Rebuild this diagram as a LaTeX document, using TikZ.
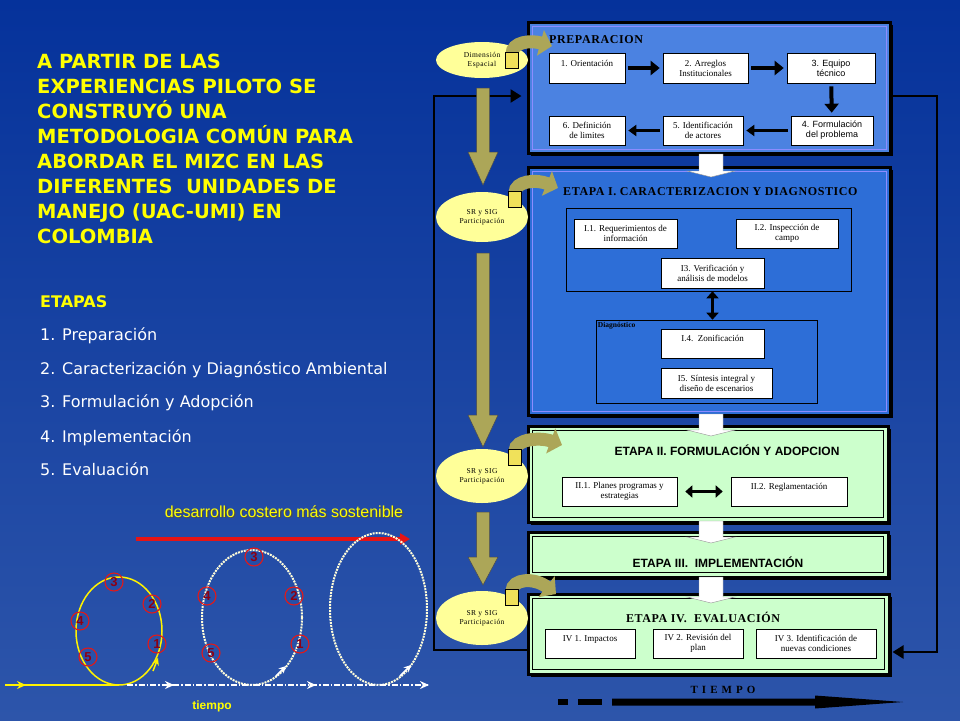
\documentclass[tikz,border=0pt]{standalone}
\usepackage{fontspec}
\setmainfont{Liberation Serif}
\setsansfont{Liberation Sans}
\newfontfamily\tahoma{DejaVu Sans}
\newfontfamily\ellfont{Liberation Serif}[LetterSpace=6]
\newfontfamily\titleserif{Liberation Serif}[LetterSpace=5]
\newfontfamily\spacedserif{Liberation Serif}[LetterSpace=12]
\usetikzlibrary{arrows.meta, positioning, shapes.geometric, shadows}

\definecolor{bgtop}{RGB}{5,50,155}
\definecolor{bgbot}{RGB}{45,85,170}
\definecolor{prepblue}{RGB}{75,130,225}
\definecolor{diagblue}{RGB}{45,110,215}
\definecolor{palegreen}{RGB}{204,255,204}
\definecolor{paleyellow}{RGB}{255,255,153}
\definecolor{khaki}{RGB}{172,166,88}
\definecolor{stemyellow}{RGB}{240,225,90}
\definecolor{titleyellow}{RGB}{255,255,0}
\definecolor{numred}{RGB}{225,25,25}
\definecolor{numdark}{RGB}{140,0,20}
\definecolor{devred}{RGB}{230,20,20}

\begin{document}
\begin{tikzpicture}[x=1pt, y=-1pt]
    \tikzstyle{stage} = [rectangle, draw=black, line width=3pt, inner sep=0pt, drop shadow={shadow xshift=2.5pt, shadow yshift=-2.5pt, fill=black, opacity=1}]
    \tikzstyle{stepbox} = [rectangle, draw=black, line width=0.6pt, fill=white, align=center, inner sep=1pt, font=\fontsize{9}{10}\selectfont]
    \tikzstyle{groupbox} = [rectangle, draw=black, line width=0.6pt, inner sep=0pt]
    \tikzstyle{ell} = [ellipse, fill=paleyellow, minimum width=92pt, inner sep=0pt, align=center, font=\ellfont\fontsize{7.5}{9}\selectfont]
    \tikzstyle{numc} = [circle, draw=numred, line width=1.1pt, minimum size=18pt, inner sep=0pt, text=numdark, font=\sffamily\bfseries\fontsize{13}{13}\selectfont]
    \tikzstyle{item} = [anchor=base west, inner sep=0pt, text=white, font=\tahoma\fontsize{16}{18}\selectfont]
    \tikzstyle{line} = [draw, line width=4pt, shorten <=3pt, shorten >=3pt, -{Triangle[length=9pt,width=14pt]}]
    \tikzstyle{thinline} = [draw, line width=2.5pt, shorten <=3pt, shorten >=3pt, -{Triangle[length=8pt,width=11pt]}]
    \tikzstyle{dblarrow} = [draw, line width=3pt, {Triangle[length=7pt,width=12pt]}-{Triangle[length=7pt,width=12pt]}]
    \tikzstyle{loopline} = [draw, line width=2.5pt, -{Triangle[length=11pt,width=13pt]}]
    \tikzstyle{hook} = [draw=khaki, line width=13pt, -{Triangle[length=12pt,width=26pt]}]
    \tikzstyle{olivefill} = [fill=khaki, draw=black!70, line width=0.5pt]
    \tikzstyle{blockwhite} = [fill=white, draw=black!40, line width=0.4pt]

    % background
    \useasboundingbox (0,0) rectangle (960,720);
    \fill[top color=bgtop, bottom color=bgbot] (0,0) rectangle (960,720);

    % stages
    \node [stage, fill=prepblue, minimum width=362pt, minimum height=131pt] (prep) at (709,87.5) {};
    \node [stage, fill=diagblue, minimum width=362pt, minimum height=248pt] (eta1) at (709,291) {};
    \node [stage, fill=palegreen, minimum width=360pt, minimum height=96pt] (eta2) at (708,474) {};
    \node [stage, fill=palegreen, minimum width=360pt, minimum height=45pt] (eta3) at (708,554.5) {};
    \node [stage, fill=palegreen, minimum width=361pt, minimum height=80pt] (eta4) at (708.5,634) {};
    \foreach \b in {prep,eta1}
        \draw[white!55!blue, line width=0.6pt] ([shift={(5.5,5.5)}]\b.north west) rectangle ([shift={(-5.5,-5.5)}]\b.south east);
    \foreach \b in {eta2,eta3,eta4}
        \draw[black, line width=0.7pt] ([shift={(6,6)}]\b.north west) rectangle ([shift={(-6,-6)}]\b.south east);

    % preparacion
    \node [anchor=west, inner sep=0pt, font=\titleserif\bfseries\fontsize{12}{14}\selectfont] (preptitle) at (549,40) {PREPARACION};
    \node [stepbox, minimum width=76pt, minimum height=30pt] (p1) at (587,68) {1. Orientación\\\mbox{}};
    \node [stepbox, minimum width=85pt, minimum height=30pt] (p2) at (705.5,68) {2. Arreglos\\Institucionales};
    \node [stepbox, minimum width=88pt, minimum height=30pt, font=\sffamily\fontsize{9}{10}\selectfont] (p3) at (831,68) {3. Equipo\\técnico};
    \node [stepbox, minimum width=82pt, minimum height=29pt, font=\sffamily\fontsize{9}{10}\selectfont] (p4) at (832,130.5) {4. Formulación\\del problema};
    \node [stepbox, minimum width=80pt, minimum height=29pt] (p5) at (703,130.5) {5. Identificación\\de actores};
    \node [stepbox, minimum width=76pt, minimum height=29pt] (p6) at (587,130.5) {6. Definición\\de limites};
    \path [line] (p1) -- (p2);
    \path [line] (p2) -- (p3);
    \path [line] (p3) -- (p4);
    \path [thinline] (p4) -- (p5);
    \path [thinline] (p5) -- (p6);

    % etapa I
    \node [anchor=west, inner sep=0pt, font=\titleserif\bfseries\fontsize{12}{14}\selectfont] (eta1title) at (563,192) {ETAPA I. CARACTERIZACION Y DIAGNOSTICO};
    \node [groupbox, minimum width=285pt, minimum height=83pt] (inner1) at (708.5,249.5) {};
    \node [stepbox, minimum width=103pt, minimum height=29pt] (i1) at (625.5,233.5) {I.1. Requerimientos de\\información};
    \node [stepbox, minimum width=102pt, minimum height=29pt] (i2) at (787,233.5) {I.2. Inspección de\\campo};
    \node [stepbox, minimum width=103pt, minimum height=30pt] (i3) at (712.5,273) {I3. Verificación y\\análisis de modelos};
    \node [groupbox, minimum width=221pt, minimum height=83pt] (diag) at (706.5,361.5) {};
    \node [anchor=north west, inner sep=1pt, font=\bfseries\fontsize{7.5}{8.5}\selectfont] (diaglbl) at ([shift={(1,1)}]diag.north west) {Diagnóstico};
    \node [stepbox, minimum width=103pt, minimum height=29pt] (i4) at (712.5,343.5) {I.4.\ \ Zonificación\\\mbox{}};
    \node [stepbox, minimum width=111pt, minimum height=30pt] (i5) at (716.5,383) {I5. Síntesis integral y\\diseño de escenarios};
    \path [dblarrow] (i3.south |- inner1.south) -- (i3.south |- diag.north);

    % etapa II, III, IV
    \node [font=\sffamily\bfseries\fontsize{12}{14}\selectfont] (eta2title) at (727,450) {ETAPA II. FORMULACIÓN Y ADOPCION};
    \node [stepbox, minimum width=115pt, minimum height=29pt] (ii1) at (619.5,491.5) {II.1. Planes programas y\\estrategias};
    \node [stepbox, minimum width=116pt, minimum height=29pt] (ii2) at (789,491.5) {II.2. Reglamentación\\\mbox{}};
    \path [dblarrow, shorten <=8pt, shorten >=8pt] (ii1) -- (ii2);
    \node [font=\sffamily\bfseries\fontsize{12}{14}\selectfont] (eta3title) at (718,562) {ETAPA III.\ \ IMPLEMENTACIÓN};
    \node [font=\titleserif\bfseries\fontsize{12}{14}\selectfont] (eta4title) at (703,617) {ETAPA IV.\ \ EVALUACIÓN};
    \node [stepbox, minimum width=90pt, minimum height=29pt] (iv1) at (590,643.5) {IV 1. Impactos\\\mbox{}};
    \node [stepbox, minimum width=90pt, minimum height=29pt] (iv2) at (698,643.5) {IV 2. Revisión del\\plan};
    \node [stepbox, minimum width=120pt, minimum height=29pt] (iv3) at (816,643.5) {IV 3. Identificación de\\nuevas condiciones};

    % white arrows between stages
    \foreach \ya/\yb/\yc in {154/171/177, 414/430/436, 521/537/543, 577/597/603}
        \filldraw[blockwhite] (699,\ya) -- (723,\ya) -- (723,\yb) -- (735,\yb) -- (711,\yc) -- (687,\yb) -- (699,\yb) -- cycle;

    % feedback loop
    \coordinate (ltop) at (434,96);
    \coordinate (lbot) at (434,650);
    \coordinate (rtop) at (937,96);
    \coordinate (rbot) at (937,652);
    \path [loopline, shorten >=5pt] (eta4.west |- lbot) -- (lbot) -- (ltop) -- (prep.west |- ltop);
    \path [loopline, shorten >=2pt] (prep.east |- rtop) -- (rtop) -- (rbot) -- (eta4.east |- rbot);

    % left column
    \foreach \ya/\yb/\yc in {88/152/185, 253/415/447, 512/557/585}
        \filldraw[olivefill] (476.5,\ya) -- (489.5,\ya) -- (489.5,\yb) -- (498,\yb) -- (483,\yc) -- (468,\yb) -- (476.5,\yb) -- cycle;
    \node [ell, minimum height=36pt] (dim) at (482,60) {Dimensión\\Espacial};
    \node [ell, minimum height=50pt] (sr1) at (482,217) {SR y SIG\\Participación};
    \node [ell, minimum height=54pt] (sr2) at (482,476) {SR y SIG\\Participación};
    \node [ell, minimum height=54pt] (sr3) at (482,618) {SR y SIG\\Participación};
    \foreach \x/\yb/\tx/\ty in {512/68/552/46, 515/207/558/188, 515/465/562/445, 512/605/556/594} {
        \draw[hook] (\x,\yb) -- (\x,\yb-14) .. controls (\x,\yb-26) and (\tx-22,\yb-28) .. (\tx,\ty);
        \filldraw[fill=stemyellow, draw=black, line width=0.5pt] (\x-6.5,\yb) rectangle (\x+6.5,\yb-16);
    }

    % tiempo
    \node [font=\spacedserif\bfseries\fontsize{11}{13}\selectfont] (tiempolbl) at (723,690) {T I E M P O};
    \fill (558,699) rectangle (568,705);
    \fill (578,699) rectangle (602,705);
    \fill (612,698.5) -- (815,698.5) -- (815,695.5) -- (903,702) -- (815,708.5) -- (815,705.5) -- (612,705.5) -- cycle;

    % left text
    \node [anchor=north west, align=left, inner sep=0pt, text=titleyellow, font=\tahoma\bfseries\fontsize{19.5}{25}\selectfont] (title) at (37,54) {A PARTIR DE LAS\\EXPERIENCIAS PILOTO SE\\CONSTRUYÓ UNA\\METODOLOGIA COMÚN PARA\\ABORDAR EL MIZC EN LAS\\DIFERENTES\ \ UNIDADES DE\\MANEJO (UAC-UMI) EN\\COLOMBIA};
    \node [item, text=titleyellow, font=\tahoma\bfseries\fontsize{16}{18}\selectfont] (etapas) at (40,307) {ETAPAS};
    \node [item] (et1) at (40,340) {1. Preparación};
    \node [item] (et2) at (40,374) {2. Caracterización y Diagnóstico Ambiental};
    \node [item] (et3) at (40,407) {3. Formulación y Adopción};
    \node [item] (et4) at (40,442) {4. Implementación};
    \node [item] (et5) at (40,475) {5. Evaluación};

    % spiral of cycles
    \node [anchor=base, text=black!70, font=\sffamily\fontsize{16}{18}\selectfont] (devshadow) at (285.2,518.2) {desarrollo costero más sostenible};
    \node [anchor=base, text=titleyellow, font=\sffamily\fontsize{16}{18}\selectfont] (dev) at (284,517) {desarrollo costero más sostenible};
    \coordinate (devstart) at (136,539);
    \coordinate (devend) at (410,539);
    \draw[devred, line width=4pt, -{Triangle[length=10pt,width=11pt]}] (devstart) -- (devend);
    \draw[yellow, line width=1.5pt] (119,631) ellipse [x radius=43, y radius=54];
    \draw[white!85!yellow, line width=2pt, densely dotted] (252,617.5) ellipse [x radius=50, y radius=67.5];
    \draw[white!85!yellow, line width=2pt, densely dotted] (378.5,609) ellipse [x radius=48.5, y radius=76];
    \coordinate (t0) at (5,685);
    \coordinate (t1) at (119,685);
    \coordinate (t2) at (428,685);
    \draw[yellow, line width=1.5pt] (t0) -- (t1);
    \draw[yellow, line width=1.5pt, -{Stealth[length=9pt,width=8pt]}] (t0) -- (26,685);
    \draw[white, line width=1.5pt, dash pattern=on 6pt off 2pt on 1.5pt off 2pt] (127,685) -- (t2);
    \foreach \xb in {174,316,429}
        \draw[white, line width=1.5pt, -{Stealth[length=9pt,width=8pt]}] (\xb-1,685) -- (\xb,685);
    \draw[yellow, line width=1.5pt, -{Stealth[length=7pt,width=7pt]}] (153,671) -- (158,658);
    \draw[white, line width=1.5pt, -{Stealth[length=7pt,width=7pt]}] (276,676) -- (286,666);
    \draw[white, line width=1.5pt, -{Stealth[length=7pt,width=7pt]}] (400,676) -- (411,665);
    % numbered steps on the first two cycles
    \foreach \x/\y/\k in {114/582/3, 152/604/2, 80/621/4, 157/644/1, 88/657/5}
        \node [numc] (ca\k) at (\x,\y) {\k};
    \foreach \x/\y/\k in {254/557/3, 207/596/4, 294/596/2, 300/644/1, 211/653/5}
        \node [numc] (cb\k) at (\x,\y) {\k};
    \node [anchor=base, text=titleyellow, font=\sffamily\bfseries\fontsize{12}{14}\selectfont] (tiempo) at (212,709) {tiempo};
\end{tikzpicture}
\end{document}
